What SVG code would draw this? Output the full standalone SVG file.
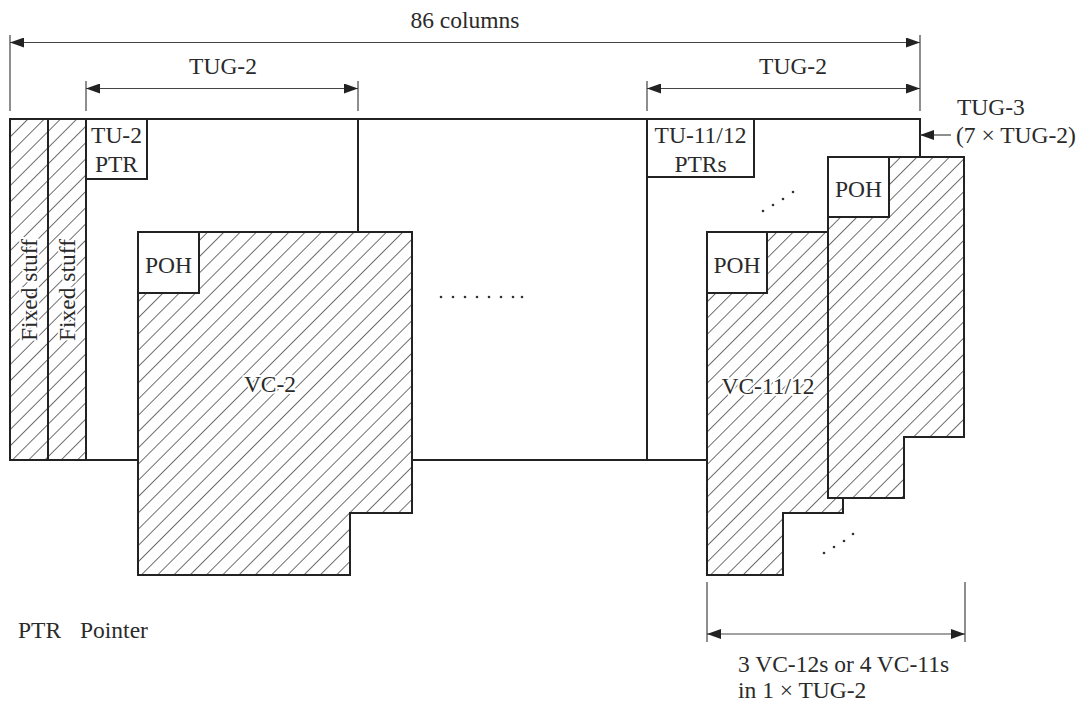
<svg xmlns="http://www.w3.org/2000/svg" width="1084" height="702" viewBox="0 0 1084 702">
<style>
text{font-family:"Liberation Serif","Times New Roman",serif;font-size:23.5px;fill:#2a2a2a}
.c{text-anchor:middle}
.halo{stroke:#fff;stroke-width:4px;paint-order:stroke;stroke-linejoin:round}
.box{fill:#fff;stroke:#222;stroke-width:2}
.hat{fill:url(#hatch);stroke:#222;stroke-width:2}
.ln{fill:none;stroke:#222;stroke-width:2}
.dim{fill:none;stroke:#444;stroke-width:1.2}
.dot{fill:#333}
</style>
<defs>
<pattern id="hatch" patternUnits="userSpaceOnUse" width="11.5" height="10" patternTransform="rotate(45)">
<rect width="11.5" height="10" fill="#fff"/>
<line x1="0" y1="0" x2="0" y2="10" stroke="#222" stroke-width="1.3"/>
</pattern>
<marker id="ah" viewBox="0 0 14 10" refX="14" refY="5" markerWidth="14" markerHeight="10" markerUnits="userSpaceOnUse" orient="auto-start-reverse">
<path d="M0,0 L14,5 L0,10 Z" fill="#222"/>
</marker>
</defs>

<g id="frame">
<path class="ln" d="M10,119 H920 V157"/>
<path class="ln" d="M10,460 H138 M412,460 H707"/>
<path class="ln" d="M358,119 V232"/>
<path class="ln" d="M647,119 V460"/>
</g>

<g id="fixed-stuff-1">
<rect class="hat" x="10" y="119" width="38" height="341"/>
<text class="halo c" transform="translate(37,290) rotate(-90)">Fixed stuff</text>
</g>
<g id="fixed-stuff-2">
<rect class="hat" x="48" y="119" width="38" height="341"/>
<text class="halo c" transform="translate(75,290) rotate(-90)">Fixed stuff</text>
</g>

<g id="tu2-ptr">
<rect class="box" x="86" y="119" width="61" height="60"/>
<text class="c" x="116.5" y="143">TU-2</text>
<text class="c" x="116.5" y="172">PTR</text>
</g>

<g id="vc2">
<path class="hat" d="M138,232 H412 V513 H350 V575 H138 Z"/>
<text class="halo c" x="270" y="392">VC-2</text>
</g>
<g id="vc2-poh">
<rect class="box" x="138" y="232" width="61" height="61"/>
<text class="c" x="168.5" y="273">POH</text>
</g>

<g id="tu11-ptrs">
<rect class="box" x="647" y="119" width="107" height="58"/>
<text class="c" x="700.5" y="143">TU-11/12</text>
<text class="c" x="700.5" y="172">PTRs</text>
</g>

<g id="vc11-front">
<path class="hat" d="M707,232 H843 V513 H783 V575 H707 Z"/>
<text class="halo c" x="768" y="394">VC-11/12</text>
</g>
<g id="vc11-front-poh">
<rect class="box" x="707" y="232" width="60" height="61"/>
<text class="c" x="737" y="273">POH</text>
</g>

<g id="vc11-rear">
<path class="hat" d="M828,157 H964 V437 H904 V498 H828 Z"/>
</g>
<g id="vc11-rear-poh">
<rect class="box" x="828" y="157" width="61" height="60"/>
<text class="c" x="858.5" y="197">POH</text>
</g>

<g id="ellipses">
<g class="dot">
<circle cx="441" cy="297" r="1.3"/><circle cx="453" cy="297" r="1.3"/><circle cx="465" cy="297" r="1.3"/><circle cx="477" cy="297" r="1.3"/>
<circle cx="489" cy="297" r="1.3"/><circle cx="501" cy="297" r="1.3"/><circle cx="513" cy="297" r="1.3"/><circle cx="522" cy="297" r="1.3"/>
<circle cx="763" cy="211" r="1.3"/><circle cx="773" cy="205" r="1.3"/><circle cx="783" cy="199" r="1.3"/><circle cx="793" cy="192" r="1.3"/>
<circle cx="824" cy="553" r="1.3"/><circle cx="834" cy="547" r="1.3"/><circle cx="844" cy="541" r="1.3"/><circle cx="853" cy="534" r="1.3"/>
</g>
</g>

<g id="connectors">
<path class="dim" d="M10,35 V111 M920,35 V111 M86,81 V111 M358,81 V111 M647,81 V111"/>
<line class="dim" x1="10" y1="42.5" x2="920" y2="42.5" marker-start="url(#ah)" marker-end="url(#ah)"/>
<line class="dim" x1="86" y1="88.5" x2="358" y2="88.5" marker-start="url(#ah)" marker-end="url(#ah)"/>
<line class="dim" x1="647" y1="88.5" x2="920" y2="88.5" marker-start="url(#ah)" marker-end="url(#ah)"/>
<line class="dim" x1="951" y1="135" x2="920" y2="135" marker-end="url(#ah)"/>
<path class="dim" d="M707,582 V642 M965,582 V642"/>
<line class="dim" x1="707" y1="634" x2="965" y2="634" marker-start="url(#ah)" marker-end="url(#ah)"/>
</g>

<g id="labels">
<text class="c" x="465" y="28">86 columns</text>
<text class="c" x="223" y="74">TUG-2</text>
<text class="c" x="793" y="74">TUG-2</text>
<text x="957" y="115">TUG-3</text>
<text x="956" y="143">(7 × TUG-2)</text>
<text x="18" y="638">PTR</text>
<text x="80" y="638">Pointer</text>
<text x="738" y="672">3 VC-12s or 4 VC-11s</text>
<text x="738" y="698">in 1 × TUG-2</text>
</g>
</svg>
